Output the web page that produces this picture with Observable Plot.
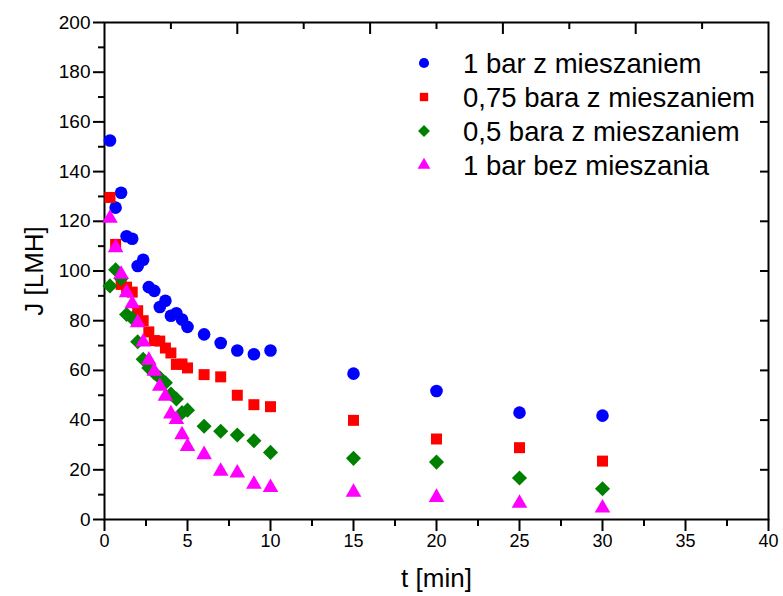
<!DOCTYPE html>
<html><head><meta charset="utf-8">
<script src="https://cdn.jsdelivr.net/npm/d3@7"></script>
<script src="https://cdn.jsdelivr.net/npm/@observablehq/plot@0.6"></script>
<style>
body{margin:0;background:#fff}
#chart{width:783px;height:596px}
g[aria-label="x-axis label"] text, g[aria-label="y-axis label"] text {font-size:26px}
</style></head><body><div id="chart"></div>
<script>
const times = [0.33, 0.67, 1, 1.33, 1.67, 2, 2.33, 2.67, 3, 3.33, 3.67, 4, 4.33, 4.67, 5, 6, 7, 8, 9, 10, 15, 20, 25, 30];
const seriesNames = ["1 bar z mieszaniem", "0,75 bara z mieszaniem", "0,5 bara z mieszaniem", "1 bar bez mieszania"];
const jBar1Mix   = [152.5, 125.5, 131.5, 114, 113, 102, 104.5, 93.5, 92, 85.5, 88, 82, 83, 80.5, 77.5, 74.5, 71, 68, 66.5, 68, 58.7, 51.7, 43.0, 41.8];
const jBar075Mix = [129.6, 110.7, 94.6, 93.5, 91.5, 84, 80, 75.5, 72, 71.8, 69, 67, 62.4, 62.6, 61, 58.3, 57.4, 50, 46.2, 45.4, 39.9, 32.4, 28.9, 23.5];
const jBar05Mix  = [94, 100.5, 97, 82.5, 81, 71.5, 64.5, 61, 59, 57, 55, 50.5, 48.5, 43, 44, 37.5, 35.5, 34, 31.7, 27, 24.6, 23.1, 16.7, 12.4];
const jBar1NoMix = [121.2, 109.4, 98.7, 91.3, 86.8, 79.2, 71.4, 64.1, 59.7, 53.6, 49.6, 42.5, 40.2, 34.1, 29.4, 26.1, 19.4, 18.7, 14.2, 12.9, 11.0, 8.9, 6.5, 4.6];
const colors = ["#0000ff", "#ff0000", "#008000", "#ff00ff"];
const symbols = ["circle", "square", "diamond2", "triangle"];
const d3Symbols = [d3.symbolCircle, d3.symbolSquare, d3.symbolDiamond2, d3.symbolTriangle];
const xMajorTicks = [0, 5, 10, 15, 20, 25, 30, 35, 40];
const xMinorTicks = [2.5, 7.5, 12.5, 17.5, 22.5, 27.5, 32.5, 37.5];
const yMajorTicks = [0, 20, 40, 60, 80, 100, 120, 140, 160, 180, 200];
const yMinorTicks = [10, 30, 50, 70, 90, 110, 130, 150, 170, 190];
const topLongTicks = [8, 16, 24, 32];
const topShortTicks = [4, 12, 20, 28, 36];
const rightTicks = [20, 40, 60, 80, 100, 120, 140, 160, 180];

const allSeries = [jBar1Mix, jBar075Mix, jBar05Mix, jBar1NoMix];
const rows = [];
allSeries.forEach((vals, si) => vals.forEach((v, i) => rows.push({t: times[i], j: v, s: seriesNames[si]})));
const dotR = [6.3, 6.2, 6.8, 5.8];

const W = 783, H = 596, ML = 104, MR = 15, MT = 22, MB = 77;
const plotW = W - ML - MR, plotH = H - MT - MB;

const plot = Plot.plot({
  width: W, height: H,
  marginLeft: ML, marginRight: MR, marginTop: MT, marginBottom: MB,
  style: {fontFamily: "'Liberation Sans', Arial, sans-serif", fontSize: "18px", color: "#000", background: "#fff"},
  x: {domain: [0, 40]},
  y: {domain: [0, 200]},
  marks: [
    Plot.axisX({ticks: xMajorTicks, tickSize: 12, tickPadding: 3, strokeWidth: 2, label: "t [min]", labelAnchor: "center", labelOffset: 67, labelArrow: "none", tickFormat: d => String(d)}),
    Plot.axisX({ticks: xMinorTicks, tickSize: 7, strokeWidth: 2, fill: "none"}),
    Plot.axisY({ticks: yMajorTicks, tickSize: 11, tickPadding: 3, strokeWidth: 2, fontSize: 19, label: "J [LMH]", labelAnchor: "center", labelOffset: 80, labelArrow: "none", tickFormat: d => String(d)}),
    Plot.axisY({ticks: yMinorTicks, tickSize: 6, strokeWidth: 2, fill: "none"}),
    Plot.ruleX(topLongTicks, {x: d => d, insetBottom: plotH - 12, stroke: "#000", strokeWidth: 2}),
    Plot.ruleX(topShortTicks, {x: d => d, insetBottom: plotH - 7, stroke: "#000", strokeWidth: 2}),
    Plot.ruleY(rightTicks, {y: d => d, insetLeft: plotW - 8, stroke: "#000", strokeWidth: 2}),
    Plot.frame({stroke: "#000", strokeWidth: 2}),
    ...seriesNames.map((name, si) => Plot.dot(rows.filter(d => d.s === name), {x: "t", y: "j", symbol: symbols[si], fill: colors[si], r: dotR[si], stroke: "none"}))
  ]
});
document.getElementById("chart").appendChild(plot);

// legend
const svg = d3.select(plot);
const lg = svg.append("g").attr("font-family", "'Liberation Sans', Arial, sans-serif").attr("font-size", 27.5).attr("fill", "#000").attr("text-anchor", "start");
const legendAreas = [80, 70, 90, 70];
seriesNames.forEach((name, i) => {
  const cy = 63 + i * 34;
  lg.append("path").attr("transform", `translate(424,${cy})`).attr("d", d3.symbol(d3Symbols[i], legendAreas[i])()).attr("fill", colors[i]);
  lg.append("text").attr("x", 463).attr("y", cy).attr("dy", "0.35em").text(name);
});
</script></body></html>
